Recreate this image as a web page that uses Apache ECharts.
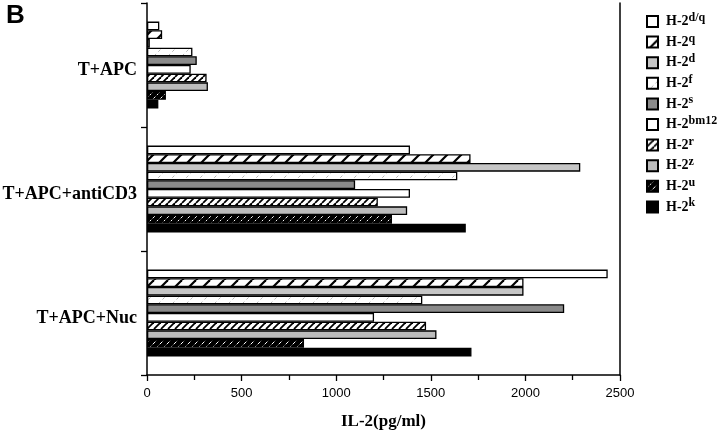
<!DOCTYPE html>
<html>
<head>
<meta charset="utf-8">
<script src="https://cdn.jsdelivr.net/npm/echarts@6/dist/echarts.min.js"></script>
<style>
html,body{margin:0;padding:0;background:#fff;overflow:hidden;}
#chart{position:absolute;left:0;top:0;width:720px;height:431px;}
</style>
</head>
<body>
<div id="chart"></div>
<script>
// ---- data ----
const categories = ['T+APC', 'T+APC+antiCD3', 'T+APC+Nuc'];
const haplotypes = ['d/q', 'q', 'd', 'f', 's', 'bm12', 'r', 'z', 'u', 'k'];
const hDQ   = [65, 1390, 2435];
const hQ    = [80, 1710, 1990];
const hD    = [15, 2290, 1990];
const hF    = [240, 1640, 1455];
const hS    = [263, 1100, 2205];
const hBM12 = [231, 1390, 1200];
const hR    = [315, 1220, 1475];
const hZ    = [322, 1375, 1530];
const hU    = [100, 1295, 830];
const hK    = [60, 1685, 1715];
const seriesValues = [hDQ, hQ, hD, hF, hS, hBM12, hR, hZ, hU, hK];
const xTicks = [0, 500, 1000, 1500, 2000, 2500];

// ---- fill patterns ----
function hatch(size, bg, fg, lw, dash) {
  const c = document.createElement('canvas');
  c.width = size; c.height = size;
  const g = c.getContext('2d');
  g.fillStyle = bg; g.fillRect(0, 0, size, size);
  g.strokeStyle = fg; g.lineWidth = lw;
  if (dash) g.setLineDash(dash);
  for (let k = -1; k <= 1; k++) {
    g.beginPath();
    g.moveTo(k * size, size);
    g.lineTo(k * size + size, 0);
    g.stroke();
  }
  return { image: c, repeat: 'repeat' };
}
const fills = [
  '#ffffff',
  hatch(14, '#ffffff', '#000000', 2.2),
  '#c6c6c6',
  hatch(14, '#ffffff', '#b5b5b5', 1, [3, 3]),
  '#8a8a8a',
  '#ffffff',
  hatch(7, '#ffffff', '#000000', 1.8),
  '#bcbcbc',
  hatch(7, '#000000', '#ffffff', 1, [2, 2]),
  '#000000'
];

const series = haplotypes.map((h, i) => ({
  name: 'H-2' + h,
  type: 'bar',
  yAxisIndex: 0,
  data: seriesValues[i],
  barGap: '0%',
  barCategoryGap: '30%',
  itemStyle: { color: fills[i], borderColor: '#000', borderWidth: 1.3 },
  emphasis: { disabled: true }
}));

const serif = '"Liberation Serif", "Times New Roman", serif';
const chart = echarts.init(document.getElementById('chart'), null, { renderer: 'canvas', width: 720, height: 431 });
chart.setOption({
  backgroundColor: '#ffffff',
  animation: false,
  graphic: [{
    type: 'text', left: 6, top: 3,
    style: { text: 'B', font: 'bold 26px "Liberation Sans", Arial, sans-serif', fill: '#000' }
  }],
  grid: { left: 147, right: 100, top: 3, bottom: 56, containLabel: false, outerBoundsMode: 'none' },
  legend: {
    orient: 'vertical',
    left: 641, top: 7,
    itemWidth: 11, itemHeight: 11,
    itemGap: 1.6,
    icon: 'rect',
    data: haplotypes.map(h => 'H-2' + h),
    formatter: name => '{a|H-2}{b|' + name.slice(3) + '}',
    textStyle: {
      padding: [0, 0, 0, 3],
      rich: {
        a: { fontFamily: serif, fontWeight: 'bold', fontSize: 14, color: '#000', lineHeight: 16 },
        b: { fontFamily: serif, fontWeight: 'bold', fontSize: 12, color: '#000', padding: [0, 0, 7, 0], lineHeight: 10 }
      }
    }
  },
  xAxis: {
    type: 'value', min: 0, max: 2500, interval: 500,
    axisLine: { show: true, lineStyle: { color: '#000', width: 1.5 } },
    axisTick: { show: true, length: 6, lineStyle: { color: '#000', width: 1.3 } },
    minorTick: { show: true, splitNumber: 2, length: 5, lineStyle: { color: '#000', width: 1.3 } },
    splitLine: { show: false },
    axisLabel: {
      margin: 12, color: '#000', fontSize: 13,
      fontFamily: '"Liberation Sans", Arial, sans-serif',
      formatter: v => (xTicks.indexOf(v) >= 0 ? String(v) : '')
    },
    name: 'IL-2(pg/ml)',
    nameLocation: 'middle',
    nameGap: 38,
    nameTextStyle: { fontFamily: serif, fontWeight: 'bold', fontSize: 17, color: '#000' }
  },
  yAxis: [{
    type: 'category', inverse: true, data: categories,
    axisLine: { show: true, lineStyle: { color: '#000', width: 1.5 } },
    axisTick: { show: true, length: 6, lineStyle: { color: '#000', width: 1.3 } },
    axisLabel: {
      margin: 10,
      formatter: v => '{l|' + v + '}',
      rich: {
        l: { color: '#000', fontSize: 18, fontWeight: 'bold', fontFamily: serif, padding: [10, 0, 0, 0], lineHeight: 20 }
      }
    }
  }, {
    type: 'category', inverse: true, data: categories, position: 'right',
    axisLine: { show: true, lineStyle: { color: '#000', width: 1.5 } },
    axisTick: { show: false },
    axisLabel: { show: false }
  }],
  series: series
});
</script>
</body>
</html>
